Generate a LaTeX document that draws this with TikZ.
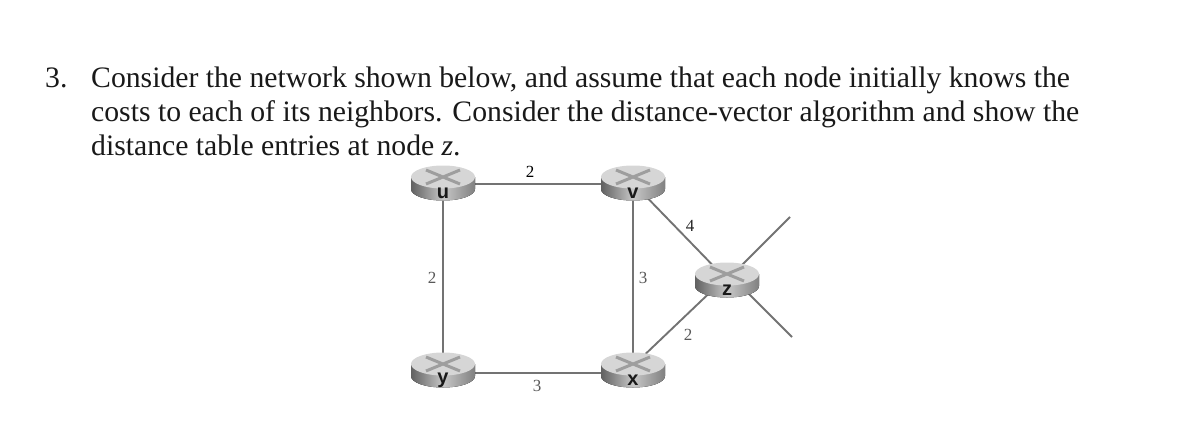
\documentclass[tikz,border=0pt]{standalone}
\usepackage{fontspec}
\setmainfont{Liberation Serif}
\setsansfont{Liberation Sans}
\usetikzlibrary{shapes.geometric,backgrounds}
\definecolor{linkc}{gray}{0.45}
\definecolor{bodyl}{gray}{0.78}
\definecolor{bodyd}{gray}{0.38}
\definecolor{topc}{gray}{0.84}
\definecolor{crossc}{gray}{0.62}
\tikzset{
  routerbox/.style={ellipse,minimum width=64,minimum height=35,inner sep=0,outer sep=0},
  link/.style={draw=linkc,line width=1.9},
  cost/.style={font=\fontsize{17}{17}\selectfont,text=black!65,inner sep=0},
  prob/.style={font=\fontsize{29.7}{29.7}\selectfont,anchor=base west,inner sep=0,text=black!90},
  rlabel/.style={font=\sffamily\bfseries\fontsize{20}{20}\selectfont,inner sep=0,text=black!90}
}
\newcommand{\routerat}[4]{%
  \begin{scope}[shift={(#2,#3)}]
    \fill[left color=bodyd,right color=bodyd!80,middle color=bodyl]
      (-32,-6) -- (-32,6) .. controls (-32,12.6) and (-17.7,17.5) .. (0,17.5)
      .. controls (17.7,17.5) and (32,12.6) .. (32,6) -- (32,-6) -- cycle;
    \fill[topc] (0,-6) ellipse[x radius=32,y radius=11.5];
    \draw[crossc,line width=3] (-17,-13) -- (17,1) (-17,1) -- (17,-13);
  \end{scope}
  \node[routerbox] (#1) at (#2,#3) {};
  \node[rlabel] (#1l) at (#2,#3+10) {#4};
}
\begin{document}
\begin{tikzpicture}[x=1pt,y=-1pt]
\useasboundingbox (0,0) rectangle (1179,437);
\node[prob] (n3) at (45,87) {3.};
\node[prob] (l1) at (91,87) {Consider the network shown below, and assume that each node initially knows the};
\node[prob] (l2) at (91,121) {costs to each of its neighbors. Consider the distance-vector algorithm and show the};
\node[prob] (l3) at (91,155) {distance table entries at node \textit{z}.};
\routerat{u}{443}{183}{u}
\routerat{v}{633}{183}{v}
\routerat{y}{443}{370}{y}
\routerat{x}{633}{370}{x}
\routerat{z}{727}{280}{z}
\coordinate (e1) at (790,217);
\coordinate (e2) at (792,337);
\begin{scope}[on background layer]
\draw[link] ([yshift=-1pt]u.east) -- ([yshift=-1pt]v.west);
\draw[link] (u) -- (y);
\draw[link] ([yshift=-3pt]y.east) -- ([yshift=-3pt]x.west);
\draw[link] (v) -- (x);
\draw[link] (v) -- (z);
\draw[link] (x.52) -- (z.217);
\draw[link] (z) -- (e1);
\draw[link] (z.-32) -- (e2);
\end{scope}
\node[cost,text=black] (c1) at (530,172) {2};
\node[cost] (c2) at (432,278) {2};
\node[cost] (c3) at (643,278) {3};
\node[cost,text=black!85] (c4) at (690,226) {4};
\node[cost] (c5) at (688,335) {2};
\node[cost] (c6) at (537,386) {3};
\end{tikzpicture}
\end{document}
